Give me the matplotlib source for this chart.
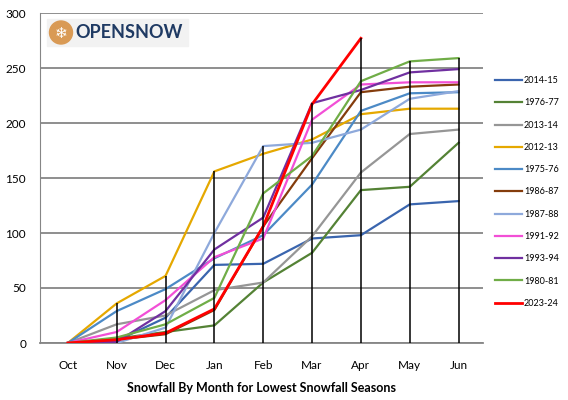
import numpy as np
import matplotlib.pyplot as plt

months = ['Oct', 'Nov', 'Dec', 'Jan', 'Feb', 'Mar', 'Apr', 'May', 'Jun']
seasons = ['2014-15', '1976-77', '2013-14', '2012-13', '1975-76', '1986-87',
           '1987-88', '1991-92', '1993-94', '1980-81', '2023-24']
colors = ['#3A65AE', '#548235', '#969696', '#E5A800', '#4C8AC6', '#843C0C',
          '#8EA9DB', '#F24FD6', '#7030A0', '#70AD47', '#FF0000']

# cumulative snowfall (inches) by month
s_2014_15 = [0, 2, 23, 71, 72, 95, 98, 126, 129]
s_1976_77 = [0, 4, 10, 16, 55, 82, 139, 142, 182]
s_2013_14 = [0, 17, 25, 48, 55, 97, 155, 190, 194]
s_2012_13 = [0, 36, 61, 156, 172, 185, 208, 213, 213]
s_1975_76 = [0, 29, 49, 77, 98, 144, 211, 227, 228]
s_1986_87 = [0, 3, 8, 30, 106, 168, 228, 233, 235]
s_1987_88 = [0, 0, 14, 100, 179, 182, 194, 222, 229]
s_1991_92 = [0, 10, 39, 78, 95, 203, 235, 237, 237]
s_1993_94 = [0, 1, 29, 85, 114, 218, 230, 246, 249]
s_1980_81 = [0, 5, 17, 41, 136, 170, 238, 256, 259]
s_2023_24 = [0, 3, 9, 31, 106, 217, 277]

series = [s_2014_15, s_1976_77, s_2013_14, s_2012_13, s_1975_76, s_1986_87,
          s_1987_88, s_1991_92, s_1993_94, s_1980_81, s_2023_24]

plt.rcParams['font.family'] = ['Lato', 'DejaVu Sans']

fig = plt.figure(figsize=(5.68, 4.0), dpi=100)
ax = fig.add_axes([40 / 568, 57 / 400, 443 / 568, 330 / 400])

x = np.arange(len(months))
for name, col, vals in zip(seasons, colors, series):
    lw = 2.0 if name == '2023-24' else 1.6
    ax.plot(x[:len(vals)], vals, color=col, lw=lw, label=name, zorder=3)

# drop lines from the highest value at each month
maxes = []
for i in range(len(months)):
    maxes.append(max(s[i] for s in series if len(s) > i))
ax.vlines(x, 0, maxes, color='black', lw=1.1, zorder=4)

ax.set_xlim(-0.57, 8.5)
ax.set_ylim(0, 300)
ax.set_yticks(range(0, 301, 50))
ax.set_xticks(x)
ax.set_xticklabels(months)
ax.yaxis.grid(True, color='#868686', lw=1.3)
ax.set_axisbelow(True)
for s in ['top', 'right']:
    ax.spines[s].set_visible(False)
ax.spines['left'].set_color('#868686')
ax.spines['bottom'].set_color('#868686')
ax.spines['bottom'].set_linewidth(1.3)
ax.tick_params(axis='both', length=0, labelsize=8.5, colors='black')
ax.tick_params(axis='x', pad=12)
ax.tick_params(axis='y', pad=10)
ax.set_xlabel('Snowfall By Month for Lowest Snowfall Seasons',
              fontsize=9, fontweight='bold', labelpad=8)

leg = ax.legend(loc='upper left', bbox_to_anchor=(487 / 568, 332 / 400),
                bbox_transform=fig.transFigure, frameon=False, fontsize=6.5,
                handlelength=3.0, handletextpad=0.2, labelspacing=1.47)

# logo
fig.patches.append(plt.Rectangle((47 / 568, 354 / 400), 141 / 568, 27 / 400,
                                 transform=fig.transFigure, color='#F2F2F2',
                                 zorder=5))
fig.patches.append(plt.Circle((0.61, 3.675), 0.115,
                              transform=fig.dpi_scale_trans, color='#D99A55',
                              zorder=6))
fig.text(61 / 568, 367 / 400, '\u2744', color='white', fontsize=11,
         ha='center', va='center', family='DejaVu Sans', zorder=7)
fig.text(75 / 568, 367 / 400, 'OPENSNOW', color='#1F3A63', fontsize=13,
         fontweight='bold', ha='left', va='center', zorder=7)

fig.savefig('out.png', dpi=100)
